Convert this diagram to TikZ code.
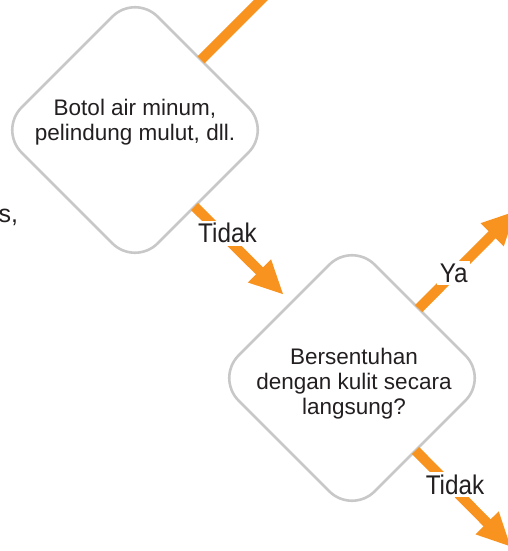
\documentclass[tikz,border=0pt]{standalone}
\usepackage{fontspec}
\setmainfont{Liberation Sans}
\usepackage{graphicx}
\usetikzlibrary{shapes.geometric,arrows.meta,calc}

\definecolor{flowOrange}{HTML}{F7931E}
\definecolor{boxGray}{HTML}{C8C8C8}
\definecolor{inkBlack}{HTML}{231F20}

\tikzset{
  decision/.style={shape=diamond, aspect=1, draw=boxGray, line width=2.6pt,
    rounded corners=32pt, minimum width=272pt, minimum height=272pt,
    inner sep=0pt, outer sep=0pt},
  qtext/.style={align=center, text=inkBlack, inner sep=0pt,
    font=\fontsize{22.5}{25}\selectfont},
  flow/.style={draw=flowOrange, line width=10pt,
    -{Triangle[length=34pt,width=30pt]}},
  lbl/.style={fill=white, text=inkBlack, inner sep=2.5pt,
    font=\fontsize{27}{30}\selectfont},
}

\begin{document}
\begin{tikzpicture}[x=1pt,y=-1pt]
  \useasboundingbox (0,0) rectangle (508,551);
  \clip (0,0) rectangle (508,551);

  % decision boxes
  \node[decision] (d1) at (135,130) {};
  \node[decision] (d2) at (352,378) {};
  \node[qtext] (t1) at (135,122) {Botol air minum,\\pelindung mulut, dll.};
  \node[qtext] (t2) at (354,384) {Bersentuhan\\dengan kulit secara\\langsung?};

  % tail of a text from the neighbouring column
  \node[anchor=base west, inner sep=0pt, text=inkBlack,
        font=\fontsize{25}{28}\selectfont] (side) at (-1.5,222.5) {s,};

  % points where the connectors leave / meet the boxes
  \coordinate (up1) at ($(d1.north)!0.485!(d1.east)$);
  \coordinate (dn1) at ($(d1.east)!0.5625!(d1.south)$);
  \coordinate (in2) at ($(d2.west)!0.555!(d2.north)$);
  \coordinate (ya2) at ($(d2.north)!0.49!(d2.east)$);
  \coordinate (no2) at ($(d2.east)!0.533!(d2.south)$);
  \coordinate (upEnd) at ($(up1)+(100,-100)$);
  \coordinate (yaEnd) at ($(ya2)+(97.5,-98)$);
  \coordinate (noEnd) at ($(no2)+(95.5,96.5)$);

  % connectors
  \draw[flow] (up1) -- (upEnd);
  \draw[flow, shorten >=11pt] (dn1) --
    node[lbl, pos=0.34, yshift=6pt] (l1) {\scalebox{0.9}[1]{Tidak}} (in2);
  \draw[flow] (ya2) --
    node[lbl, pos=0.36] (l2) {\scalebox{0.9}[1]{Ya}} (yaEnd);
  \draw[flow] (no2) --
    node[lbl, pos=0.414, yshift=6pt] (l3) {\scalebox{0.9}[1]{Tidak}} (noEnd);
\end{tikzpicture}
\end{document}
